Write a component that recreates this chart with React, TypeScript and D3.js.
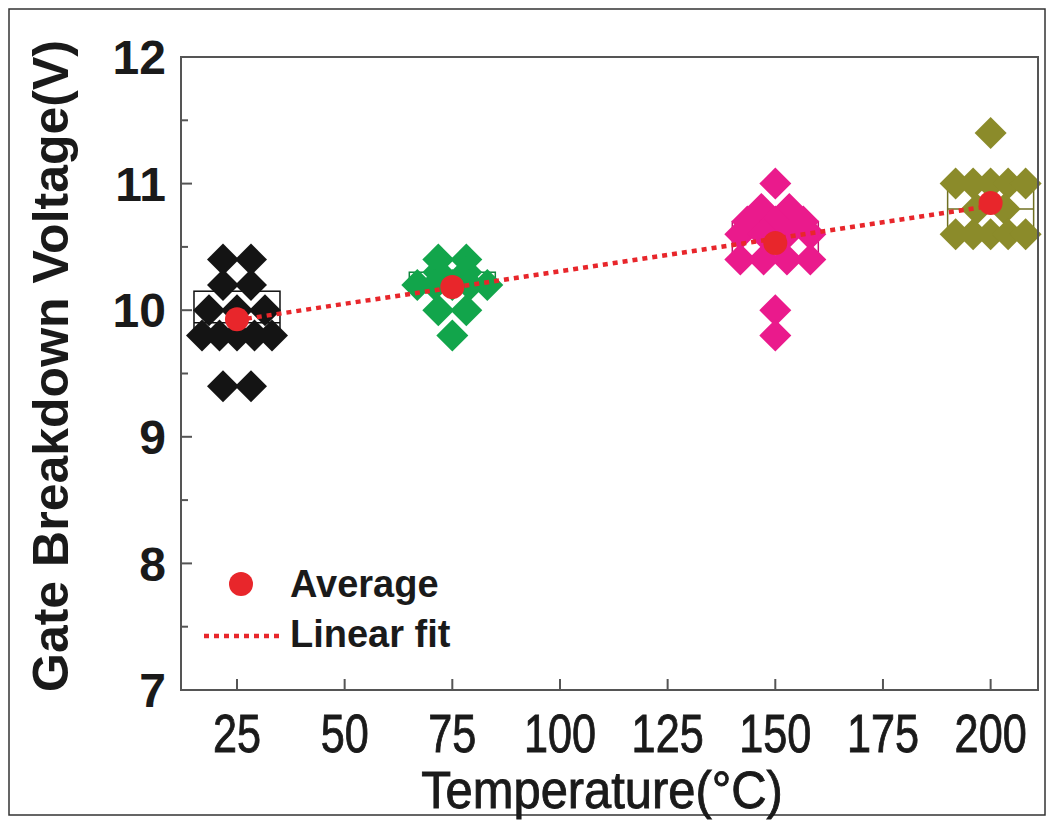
import React from 'react';
import * as d3 from 'd3';

// breakdown voltages per temperature
const temperatures = [25, 75, 150, 200];
const seriesColors = ['#141414', '#12a54b', '#ea1a8c', '#8b8b2a'];
const vbd25 = [10.4, 10.4, 10.2, 10.2, 10.0, 10.0, 10.0, 9.8, 9.8, 9.8, 9.8, 9.8, 9.4, 9.4];
const vbd75 = [10.4, 10.4, 10.3, 10.3, 10.2, 10.2, 10.2, 10.2, 10.2, 10.0, 10.0, 9.8];
const vbd150 = [11.0, 10.8, 10.8, 10.7, 10.7, 10.7, 10.6, 10.6, 10.6, 10.6, 10.4, 10.4, 10.4, 10.4, 10.0, 9.8];
const vbd200 = [11.4, 11.0, 11.0, 11.0, 11.0, 11.0, 10.8, 10.8, 10.6, 10.6, 10.6, 10.6, 10.6];

const xTicks = [25, 50, 75, 100, 125, 150, 175, 200];
const yTicks = [7, 8, 9, 10, 11, 12];
const yMinorTicks = [7.5, 8.5, 9.5, 10.5, 11.5];
const legendLabels = ['Average', 'Linear fit'];

const W = 1053, H = 824;
const plot = { left: 181, right: 1038, top: 57, bottom: 690 };
const red = '#e8262b';
const ink = '#1a1a1a';
const sans = "'Liberation Sans', Arial, sans-serif";

// spread equal values sideways, like Origin's overlapped points
function swarm(values: number[]) {
  const out: { v: number; dx: number }[] = [];
  d3.group(values, v => v).forEach((arr, v) => {
    const n = arr.length;
    const step = n > 1 ? Math.min(28, 70 / (n - 1)) : 0;
    arr.forEach((_, i) => out.push({ v, dx: (i - (n - 1) / 2) * step }));
  });
  return out;
}

// narrow text: no condensed face installed, so squeeze Liberation Sans
function Narrow(props: { x: number; y: number; size: number; sx: number; children: React.ReactNode }) {
  return (
    <g transform={`translate(${props.x},${props.y}) scale(${props.sx},1)`}>
      <text textAnchor="middle" fontFamily={sans} fontSize={props.size} fill={ink}
        stroke={ink} strokeWidth={0.9}>{props.children}</text>
    </g>
  );
}

export default function App() {
  const x = d3.scaleLinear().domain([12, 211]).range([plot.left, plot.right]);
  const y = d3.scaleLinear().domain([7, 12]).range([plot.bottom, plot.top]);

  const groups = [vbd25, vbd75, vbd150, vbd200].map((vals, i) => {
    const sorted = vals.slice().sort(d3.ascending);
    return {
      t: temperatures[i],
      color: seriesColors[i],
      points: swarm(vals),
      mean: d3.mean(vals) as number,
      q1: d3.quantile(sorted, 0.25) as number,
      q3: d3.quantile(sorted, 0.75) as number,
      med: d3.median(sorted) as number
    };
  });

  // least squares through the averages
  const mx = d3.mean(groups, g => g.t) as number;
  const my = d3.mean(groups, g => g.mean) as number;
  const slope = d3.sum(groups, g => (g.t - mx) * (g.mean - my)) / d3.sum(groups, g => (g.t - mx) ** 2);
  const fit = (t: number) => my + slope * (t - mx);
  const fitLine = d3.line<number>().x(t => x(t)).y(t => y(fit(t)));

  const diamond = d3.symbol().type(d3.symbolSquare).size(512)() as string;
  const boxHalf = 43;

  return (
    <svg width={W} height={H} style={{ position: 'absolute', left: 0, top: 0, background: '#fff' }}>
      <rect x={9} y={9} width={1036} height={806} fill="#fff" stroke="#333" strokeWidth={1.5} />

      {/* boxes */}
      {groups.map((g, i) => (
        <g key={'b' + i} fill="none" stroke={d3.color(g.color)!.darker(0.6).toString()} strokeWidth={1.5}>
          <rect x={x(g.t) - boxHalf} y={y(g.q3)} width={boxHalf * 2} height={y(g.q1) - y(g.q3)} />
          <line x1={x(g.t) - boxHalf} x2={x(g.t) + boxHalf} y1={y(g.med)} y2={y(g.med)} />
        </g>
      ))}

      {/* raw points */}
      {groups.map((g, i) => (
        <g key={'p' + i} fill={g.color}>
          {g.points.map((p, j) => (
            <path key={j} d={diamond} transform={`translate(${x(g.t) + p.dx},${y(p.v)}) rotate(45)`} />
          ))}
        </g>
      ))}

      <path d={fitLine([temperatures[0], temperatures[temperatures.length - 1]]) as string}
        fill="none" stroke={red} strokeWidth={4.5} strokeDasharray="5 5" />

      {groups.map((g, i) => (
        <circle key={'m' + i} cx={x(g.t)} cy={y(g.mean)} r={12} fill={red} />
      ))}

      {/* frame and ticks */}
      <rect x={plot.left} y={plot.top} width={plot.right - plot.left} height={plot.bottom - plot.top}
        fill="none" stroke="#555" strokeWidth={2} />
      {yTicks.map(t => (
        <g key={'yt' + t}>
          <line x1={plot.left} x2={plot.left + 11} y1={y(t)} y2={y(t)} stroke="#555" strokeWidth={2} />
          <text x={166} y={y(t)} dy="0.36em" textAnchor="end" fontFamily={sans} fontWeight="bold"
            fontSize={48} fill={ink}>{t}</text>
        </g>
      ))}
      {yMinorTicks.map(t => (
        <line key={'ym' + t} x1={plot.left} x2={plot.left + 7} y1={y(t)} y2={y(t)} stroke="#555" strokeWidth={2} />
      ))}
      {xTicks.map(t => (
        <g key={'xt' + t}>
          <line x1={x(t)} x2={x(t)} y1={plot.bottom} y2={plot.bottom - 11} stroke="#555" strokeWidth={2} />
          <Narrow x={x(t)} y={752} size={54} sx={0.8}>{t}</Narrow>
        </g>
      ))}

      <text transform={`translate(68,366) rotate(-90)`} textAnchor="middle" fontFamily={sans}
        fontWeight="bold" fontSize={50} fill={ink}>Gate Breakdown Voltage(V)</text>
      <Narrow x={602} y={808} size={52} sx={0.94}>Temperature(°C)</Narrow>

      {/* legend */}
      <circle cx={241} cy={584} r={12} fill={red} />
      <line x1={204} x2={282} y1={636} y2={636} stroke={red} strokeWidth={4.5} strokeDasharray="5 5" />
      <text x={290} y={597} fontFamily={sans} fontWeight="bold" fontSize={38} fill={ink}>{legendLabels[0]}</text>
      <text x={290} y={647} fontFamily={sans} fontWeight="bold" fontSize={38} fill={ink}>{legendLabels[1]}</text>
    </svg>
  );
}
